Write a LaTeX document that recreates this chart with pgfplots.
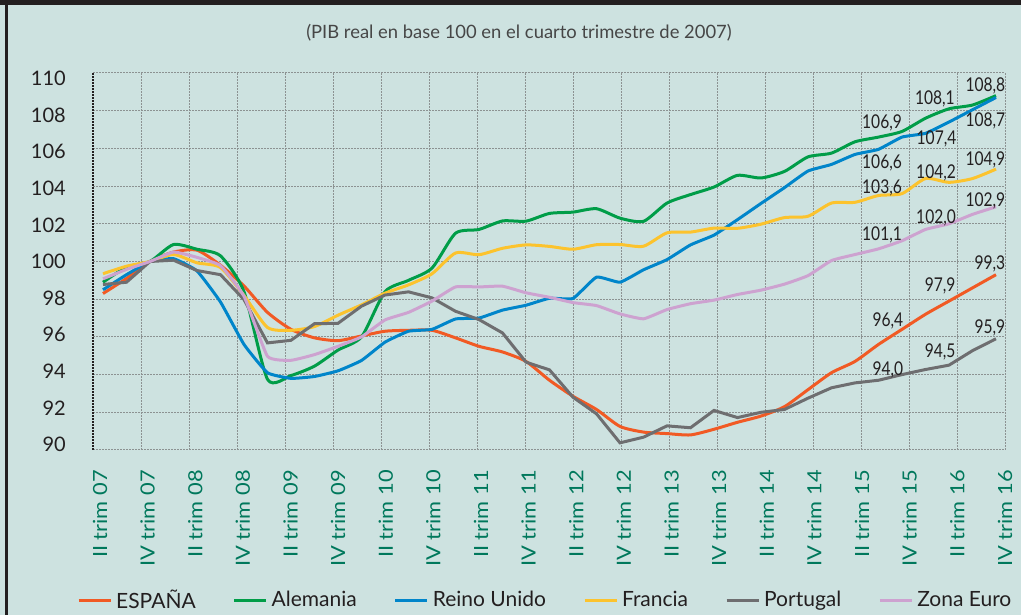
\documentclass[border=0pt]{standalone}
\usepackage{pgfplots}
\pgfplotsset{compat=1.18}
\usepackage{pgfplotstable}
\usetikzlibrary{backgrounds}
\usepackage{fontspec}
\setmainfont{Lato}
\usepackage{graphicx}

\definecolor{bg}{RGB}{205,226,224}
\definecolor{espana}{RGB}{241,90,36}
\definecolor{alemania}{RGB}{0,157,72}
\definecolor{reino}{RGB}{0,133,202}
\definecolor{francia}{RGB}{252,195,45}
\definecolor{portugal}{RGB}{110,110,112}
\definecolor{zona}{RGB}{205,162,208}
\definecolor{xlab}{RGB}{0,120,92}
\definecolor{txt}{RGB}{35,31,32}
\definecolor{gridc}{RGB}{140,146,146}

\newcommand\xl[1]{\scalebox{1.12}[1]{#1}}
\newcommand\dl[1]{\scalebox{0.82}[1]{#1}}

\pgfplotstableread{
i  es     de     uk     fr     pt     ez
0  98.3   98.9   98.5   99.35  98.78  99.08
1  99.1   99.7   99.3   99.75  98.9   99.58
2  100.0  100.0  100.0  100.0  100.0  100.0
3  100.5  100.9  100.15 100.37 100.07 100.5
4  100.6  100.65 99.5   99.93  99.52  100.22
5  99.8   100.3  97.85  99.68  99.3   99.78
6  98.7   98.4   95.6   98.2   97.98  98.16
7  97.3   93.75  94.1   96.5   95.68  94.97
8  96.4   93.95  93.8   96.35  95.82  94.76
9  95.95  94.45  93.9   96.55  96.7   95.06
10 95.8   95.3   94.2   97.15  96.72  95.5
11 96.05  96.0   94.75  97.7   97.63  96.0
12 96.3   98.4   95.72  98.32  98.22  96.9
13 96.35  99.0   96.3   98.76  98.39  97.3
14 96.35  99.65  96.4   99.35  98.07  97.9
15 95.95  101.5  96.95  100.45 97.36  98.65
16 95.5   101.7  97.0   100.36 96.92  98.65
17 95.2   102.15 97.42  100.7  96.21  98.69
18 94.7   102.14 97.68  100.88 94.66  98.34
19 93.7   102.55 98.05  100.8  94.25  98.1
20 92.85  102.62 98.04  100.65 92.8   97.82
21 92.15  102.8  99.17  100.89 91.92  97.66
22 91.25  102.3  98.9   100.9  90.38  97.22
23 90.95  102.13 99.56  100.81 90.68  96.96
24 90.87  103.1  100.1  101.52 91.28  97.45
25 90.8   103.55 100.88 101.56 91.18  97.76
26 91.1   103.95 101.4  101.77 92.1   97.95
27 91.47  104.57 102.22 101.76 91.72  98.25
28 91.8   104.43 103.08 101.98 92.0   98.48
29 92.3   104.78 103.92 102.33 92.15  98.8
30 93.2   105.55 104.8  102.4  92.75  99.25
31 94.1   105.75 105.15 103.1  93.3   100.05
32 94.7   106.35 105.68 103.14 93.56  100.37
33 95.6   106.6  105.95 103.5  93.7   100.67
34 96.4   106.9  106.6  103.6  94.0   101.1
35 97.2   107.6  106.8  104.4  94.27  101.7
36 97.9   108.1  107.4  104.2  94.5   102.0
37 98.6   108.3  108.05 104.4  95.27  102.5
38 99.3   108.8  108.7  104.9  95.9   102.9
}\datatable

\begin{document}
\begin{tikzpicture}[x=1pt,y=1pt]
\begin{axis}[
  width=912pt, height=377pt, scale only axis,
  xmin=-0.4255, xmax=38.383, ymin=90, ymax=110,
  clip=false,
  axis line style={draw=none},
  major tick length=0pt,
  xtick={-0.128,1.899,3.926,5.952,7.979,10.006,12.033,14.060,16.087,18.113,20.140,22.167,24.194,26.221,28.247,30.274,32.301,34.328,36.355,38.382},
  xticklabels={\xl{II trim 07},\xl{IV trim 07},\xl{II trim 08},\xl{IV trim 08},\xl{II trim 09},\xl{IV trim 09},\xl{II trim 10},\xl{IV trim 10},\xl{II trim 11},\xl{IV trim 11},\xl{II trim 12},\xl{IV trim 12},\xl{II trim 13},\xl{IV trim 13},\xl{II trim 14},\xl{IV trim 14},\xl{II trim 15},\xl{IV trim 15},\xl{II trim 16},\xl{IV trim 16}},
  xticklabel style={yshift=-20pt, rotate=90, anchor=east, inner sep=0pt, font=\fontsize{19.5}{23}\selectfont, text=xlab},
  ytick={90.292,92.234,94.175,96.117,98.058,100,101.942,103.883,105.825,107.766,109.708},
  yticklabels={90,92,94,96,98,100,102,104,106,108,110},
  yticklabel style={anchor=east, inner sep=0pt, xshift=-27pt, font=\fontsize{20}{24}\selectfont, text=txt},
  legend columns=6,
  legend image code/.code={\draw[#1] (0pt,0pt) -- (32pt,0pt);},
  legend style={at={(-0.01754,-0.3979)}, anchor=west, draw=none, fill=none, inner sep=0pt,
    font=\fontsize{21}{25}\selectfont, text=txt,
    nodes={inner sep=4pt},
    /tikz/every even column/.append style={column sep=33pt}},
  every axis plot/.append style={line width=3pt},
]
\coordinate (SW) at (rel axis cs:0,0);
\addplot[espana, smooth, tension=0.4] table[x=i,y=es] {\datatable};
\addlegendentry{ESPAÑA}
\addplot[alemania, smooth, tension=0.4] table[x=i,y=de] {\datatable};
\addlegendentry{Alemania}
\addplot[reino, smooth, tension=0.25] table[x=i,y=uk] {\datatable};
\addlegendentry{Reino Unido}
\addplot[francia, smooth, tension=0.4] table[x=i,y=fr] {\datatable};
\addlegendentry{Francia}
\addplot[portugal] table[x=i,y=pt] {\datatable};
\addlegendentry{Portugal}
\addplot[zona, smooth, tension=0.25] table[x=i,y=ez] {\datatable};
\addlegendentry{Zona Euro}

\begin{scope}[every node/.style={anchor=base, inner sep=0pt, font=\fontsize{19}{22}\selectfont, text=txt}]
\node at (axis cs:37.55,109.0) {\dl{108,8}};
\node at (axis cs:35.40,108.31) {\dl{108,1}};
\node at (axis cs:37.55,107.15) {\dl{108,7}};
\node at (axis cs:35.47,106.19) {\dl{107,4}};
\node at (axis cs:33.15,107.04) {\dl{106,9}};
\node at (axis cs:33.15,104.92) {\dl{106,6}};
\node at (axis cs:35.45,104.39) {\dl{104,2}};
\node at (axis cs:37.55,105.08) {\dl{104,9}};
\node at (axis cs:33.15,103.59) {\dl{103,6}};
\node at (axis cs:37.55,102.9) {\dl{102,9}};
\node at (axis cs:35.45,102.0) {\dl{102,0}};
\node at (axis cs:33.15,101.1) {\dl{101,1}};
\node at (axis cs:37.74,99.56) {\dl{99,3}};
\node at (axis cs:35.62,98.39) {\dl{97,9}};
\node at (axis cs:33.40,96.54) {\dl{96,4}};
\node at (axis cs:37.74,96.17) {\dl{95,9}};
\node at (axis cs:35.62,94.89) {\dl{94,5}};
\node at (axis cs:33.40,93.94) {\dl{94,0}};
\end{scope}
\end{axis}
\begin{scope}[on background layer, shift={(SW)}]
\fill[bg] (-93,-165) rectangle (928,450);
\fill[txt] (-93,445) rectangle (928,450);
\fill[txt] (-88,-165) rectangle (-85,450);
\node[font=\fontsize{18.4}{22}\selectfont, text={rgb,255:red,70;green,70;blue,70}] at (426,417) {(PIB real en base 100 en el cuarto trimestre de 2007)};
\foreach \k in {1,...,19} \draw[gridc, line width=1pt, dash pattern=on 1.5pt off 1.5pt] ({48*\k},0) -- ({48*\k},377);
\foreach \j in {0,...,10} \draw[gridc, line width=1pt, dash pattern=on 1.5pt off 1.5pt] (0,{37.7*\j}) -- (912,{37.7*\j});
\draw[txt, line width=1.5pt, dash pattern=on 1.5pt off 1.5pt] (0,0) -- (0,377);
\end{scope}
\end{tikzpicture}
\end{document}
